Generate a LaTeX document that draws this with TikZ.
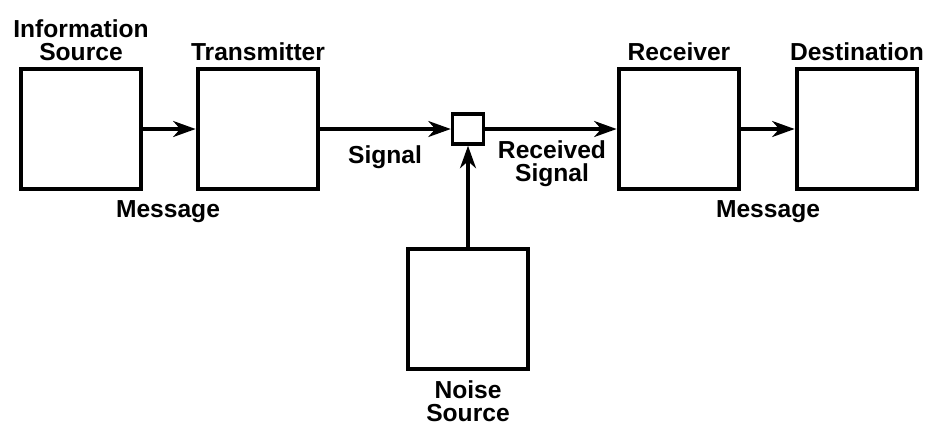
\documentclass[tikz,border=0pt]{standalone}
\usepackage{fontspec}
\setmainfont{Liberation Sans}
\usetikzlibrary{arrows.meta, positioning}

\begin{document}
\begin{tikzpicture}[
        x=0.02cm, y=-0.02cm,
        block/.style={rectangle, draw, line width=2.7pt, minimum width=2.4cm, minimum height=2.4cm, inner sep=0pt},
        joint/.style={rectangle, draw, line width=2pt, minimum width=0.62cm, minimum height=0.6cm, inner sep=0pt},
        lbl/.style={align=center, font=\bfseries\fontsize{14}{13}\selectfont, inner sep=1pt},
        arrow/.style={-{Stealth[length=4.5mm, width=3.2mm, inset=1.4mm]}, line width=1.8pt}
    ]
    \useasboundingbox (0,0) rectangle (925,427);

    % Blocks
    \node[block] (source) at (81,129) {};
    \node[block] (trans) at (258,129) {};
    \node[joint] (mix) at (468,129) {};
    \node[block] (recv) at (679,129) {};
    \node[block] (dest) at (857,129) {};
    \node[block] (noise) at (468,309) {};

    % Titles
    \node[lbl, above=2pt of source] (sourcetxt) {Information\\Source};
    \node[lbl, above=2pt of trans] (transtxt) {Transmitter};
    \node[lbl, above=2pt of recv] (recvtxt) {Receiver};
    \node[lbl, above=2pt of dest] (desttxt) {Destination};
    \node[lbl, below=4pt of noise] (noisetxt) {Noise\\Source};

    % Arrows
    \draw[arrow] (source.east) -- (trans.west);
    \draw[arrow] (trans.east) -- (mix.west);
    \draw[arrow] (mix.east) -- (recv.west);
    \draw[arrow] (recv.east) -- (dest.west);
    \draw[arrow] (noise.north) -- (mix.south);

    % Arrow labels
    \node[lbl] (msgin) at (168,212) {Message};
    \node[lbl] (sig) at (385,157) {Signal};
    \node[lbl] (rsig) at (552,164) {Received\\Signal};
    \node[lbl] (msgout) at (768,212) {Message};

\end{tikzpicture}
\end{document}
